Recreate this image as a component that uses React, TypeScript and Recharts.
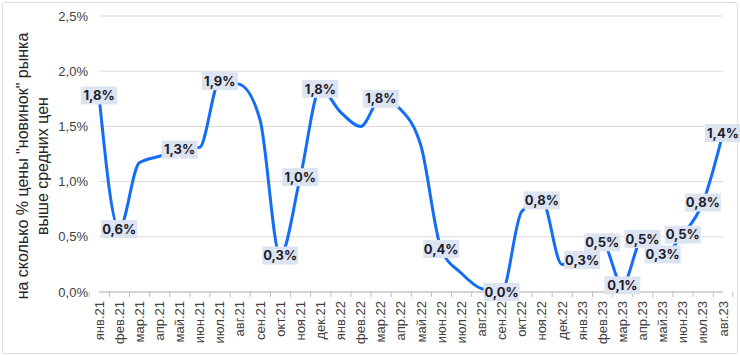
import { LineChart, Line, XAxis, YAxis, CartesianGrid, LabelList } from 'recharts';

const months = [
  'янв.21', 'фев.21', 'мар.21', 'апр.21', 'май.21', 'июн.21', 'июл.21', 'авг.21',
  'сен.21', 'окт.21', 'ноя.21', 'дек.21', 'янв.22', 'фев.22', 'мар.22', 'апр.22',
  'май.22', 'июн.22', 'июл.22', 'авг.22', 'сен.22', 'окт.22', 'ноя.22', 'дек.22',
  'янв.23', 'фев.23', 'мар.23', 'апр.23', 'май.23', 'июн.23', 'июл.23', 'авг.23',
];

const values = [
  1.78, 0.57, 1.17, 1.23, 1.29, 1.31, 1.91, 1.88,
  1.56, 0.33, 1.04, 1.84, 1.63, 1.5, 1.75, 1.65,
  1.32, 0.39, 0.17, 0.03, 0.0, 0.73, 0.83, 0.25,
  0.29, 0.45, 0.06, 0.48, 0.34, 0.52, 0.81, 1.44,
];

const labels = [
  '1,8%', '0,6%', '', '', '1,3%', '', '1,9%', '',
  '', '0,3%', '1,0%', '1,8%', '', '', '1,8%', '',
  '', '0,4%', '', '', '0,0%', '', '0,8%', '',
  '0,3%', '0,5%', '0,1%', '0,5%', '0,3%', '0,5%', '0,8%', '1,4%',
];

const yTicks = [0, 0.5, 1, 1.5, 2, 2.5];

const data = months.map((m, i) => ({ month: m, value: values[i], label: labels[i] }));

const axisFont = '"Liberation Sans", Arial, sans-serif';

function XTick(props: any) {
  const { x, y, payload, index } = props;
  const half = payload && payload.offset ? payload.offset : 9.75;
  return (
    <g>
      <line x1={x - half} x2={x - half} y1={y - 8} y2={y - 3} stroke="#bfbfbf" />
      {index === months.length - 1 && (
        <line x1={x + half} x2={x + half} y1={y - 8} y2={y - 3} stroke="#bfbfbf" />
      )}
      <text
        x={x}
        y={y + 1}
        transform={`rotate(-90, ${x}, ${y + 1})`}
        textAnchor="end"
        dy="0.35em"
        fontSize={13}
        fill="#404040"
        fontFamily={axisFont}
      >
        {payload.value}
      </text>
    </g>
  );
}

function PointLabel(props: any) {
  const { x, y, value } = props;
  if (!value) return null;
  return (
    <g>
      <rect x={x - 18} y={y - 9} width={36} height={18} fill="#dce3f1" />
      <text
        x={x}
        y={y}
        dy="0.36em"
        textAnchor="middle"
        fontSize={13}
        fontWeight={700}
        fill="#1d1d2b"
        fontFamily="Inter, 'Noto Sans', sans-serif"
      >
        {value}
      </text>
    </g>
  );
}

function AxisTitle() {
  const cy = 166;
  return (
    <g fontFamily={axisFont} fontSize={16} fill="#262626">
      <text x={22} y={cy} transform={`rotate(-90, 22, ${cy})`} textAnchor="middle" dy="0.35em">
        на сколько % цены "новинок" рынка
      </text>
      <text x={42} y={cy} transform={`rotate(-90, 42, ${cy})`} textAnchor="middle" dy="0.35em">
        выше средних цен
      </text>
    </g>
  );
}

export default function App() {
  return (
    <div style={{ position: 'absolute', left: 0, top: 0, width: 740, height: 356, background: '#fff' }}>
      <div
        style={{
          position: 'absolute',
          left: 2,
          top: 2,
          width: 734,
          height: 350,
          border: '1px solid #dedede',
          borderRadius: 3,
        }}
      />
      <LineChart
        width={740}
        height={356}
        data={data}
        margin={{ top: 16, right: 17, bottom: 4, left: 0 }}
        style={{ position: 'absolute', left: 0, top: 0 }}
      >
        <CartesianGrid vertical={false} stroke="#d9d9d9" />
        <XAxis
          dataKey="month"
          interval={0}
          height={60}
          tickSize={5}
          tickMargin={3}
          tickLine={false}
          axisLine={{ stroke: '#bfbfbf' }}
          tick={<XTick />}
        />
        <YAxis
          domain={[0, 2.5]}
          ticks={yTicks}
          width={99}
          axisLine={false}
          tickLine={false}
          tickSize={6}
          tickMargin={5}
          tick={{ fontSize: 13, fill: '#404040', fontFamily: axisFont }}
          tickFormatter={(v: number) => v.toFixed(1).replace('.', ',') + '%'}
          label={<AxisTitle />}
        />
        <Line
          type="monotone"
          dataKey="value"
          stroke="#136ef5"
          strokeWidth={3}
          dot={false}
          isAnimationActive={false}
        >
          <LabelList dataKey="label" content={<PointLabel />} />
        </Line>
      </LineChart>
    </div>
  );
}
